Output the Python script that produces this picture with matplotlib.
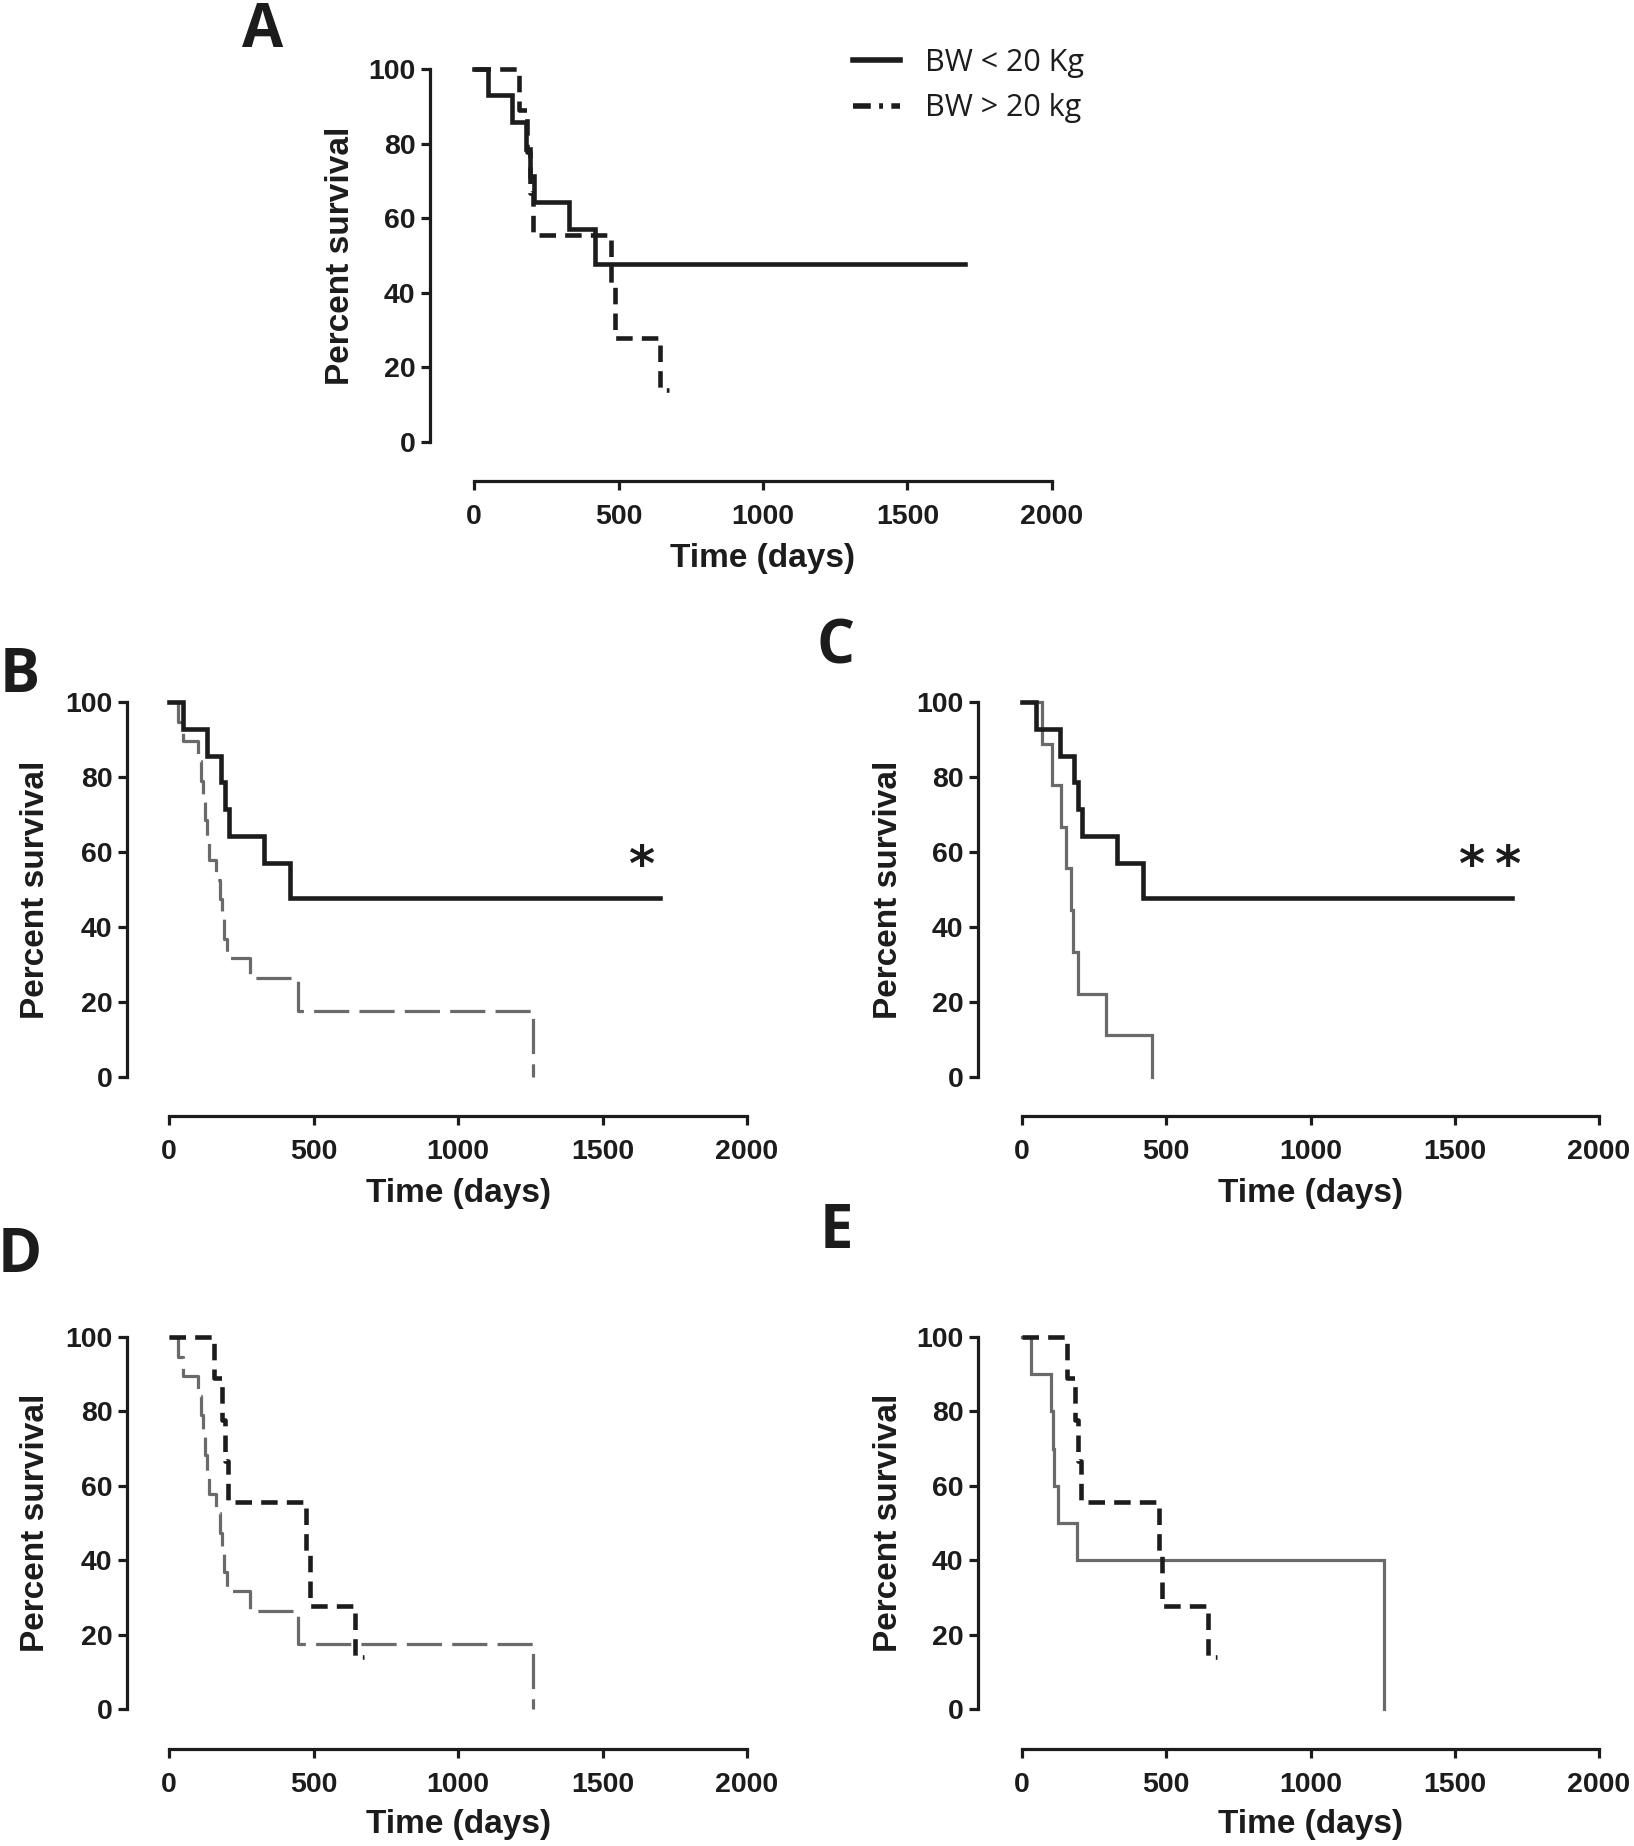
import matplotlib.pyplot as plt
from matplotlib.lines import Line2D

W, H, DPI = 1634, 1846, 100

# Kaplan-Meier curves (time in days, percent survival)
# BW < 20 kg, black solid (A, B, C)
small_t = [0, 50, 130, 180, 193, 207, 328, 418, 1698]
small_s = [100, 92.9, 85.7, 78.6, 71.4, 64.3, 57.1, 47.6, 47.6]
# BW > 20 kg, black dashed (A, D, E)
large_t = [0, 155, 185, 195, 205, 475, 487, 645, 675]
large_s = [100, 88.9, 77.8, 66.7, 55.6, 41.7, 27.8, 13.9, 13.9]
# grey dashed group (B, D)
grey_dash_t = [0, 32, 50, 100, 110, 118, 124, 130, 138, 164, 178, 184, 190, 199, 279, 447, 1259]
grey_dash_s = [100, 94.7, 89.5, 84.2, 78.9, 73.7, 68.4, 63.2, 57.9, 52.6, 47.4, 42.1, 36.8, 31.6, 26.3, 17.5, 0]
# grey solid group (C)
grey_c_t = [0, 68, 104, 135, 153, 170, 176, 194, 291, 449]
grey_c_s = [100, 88.9, 77.8, 66.7, 55.6, 44.4, 33.3, 22.2, 11.1, 0]
# grey solid group (E)
grey_e_t = [0, 32, 102, 108, 112, 126, 192, 1254]
grey_e_s = [100, 90, 80, 70, 60, 50, 40, 0]

x_ticks = [0, 500, 1000, 1500, 2000]
y_ticks = [0, 20, 40, 60, 80, 100]
legend_labels = ['BW < 20 Kg', 'BW > 20 kg']

BLACK = '#1c1c1c'
GREY = '#6a6a6a'
TICK_FONT = 'Liberation Sans'
LETTER_FONT = 'Open Sans'

# panel geometry in pixels: x at 0 days, x at 2000 days, y at 100 %, y at 0 %,
# position of the y spine, position of the x spine
boxes = {
    'A': (474, 1052, 69, 442, 430, 481),
    'B': (169, 747, 702, 1077, 127, 1116),
    'C': (1022, 1599, 702, 1077, 978, 1116),
    'D': (169, 747, 1337, 1709, 127, 1749),
    'E': (1022, 1599, 1337, 1709, 978, 1749),
}
# panel letters: centre x, baseline y (pixels)
letter_pos = {'A': (263, 47), 'B': (20, 692), 'C': (836, 663), 'D': (20, 1272), 'E': (836, 1248)}

fig = plt.figure(figsize=(W / DPI, H / DPI), dpi=DPI)


def make_axes(key):
    x0, x1, ytop, ybot, yax, xax = boxes[key]
    ax = fig.add_axes([x0 / W, 1 - ybot / H, (x1 - x0) / W, (ybot - ytop) / H])
    ax.set_xlim(0, 2000)
    ax.set_ylim(0, 100)
    for s in ['top', 'right']:
        ax.spines[s].set_visible(False)
    ax.spines['left'].set_position(('outward', (x0 - yax) * 72 / DPI))
    ax.spines['bottom'].set_position(('outward', (xax - ybot) * 72 / DPI))
    for s in ['left', 'bottom']:
        ax.spines[s].set_linewidth(2.3)
        ax.spines[s].set_color(BLACK)
        ax.spines[s].set_capstyle('projecting')
    ax.set_xticks(x_ticks)
    ax.set_yticks(y_ticks)
    ax.tick_params(axis='both', length=6.5, width=2.3, color=BLACK,
                   labelsize=20.5, labelcolor=BLACK)
    ax.tick_params(axis='y', pad=4)
    ax.tick_params(axis='x', pad=10)
    for lab in ax.get_xticklabels() + ax.get_yticklabels():
        lab.set_fontfamily(TICK_FONT)
        lab.set_fontweight('bold')
    ax.set_xlabel('Time (days)', fontsize=24, fontweight='bold', family=TICK_FONT, color=BLACK)
    ax.set_ylabel('Percent survival', fontsize=24, fontweight='bold', family=TICK_FONT, color=BLACK)
    ax.xaxis.set_label_coords(0.5, -0.27)
    ax.yaxis.set_label_coords(-0.205, 0.5)
    lx, ly = letter_pos[key]
    fig.text(lx / W, 1 - ly / H, key, fontsize=43, fontweight='bold', family=LETTER_FONT,
             color=BLACK, ha='center', va='baseline')
    return ax


def km(ax, t, s, color, lw, ls):
    ax.step(t, s, where='post', color=color, lw=lw, linestyle=ls, clip_on=False,
            solid_joinstyle='miter', dash_capstyle='butt')


black_dash = (0, (3.6, 2))
grey_dash = (0, (11, 3.2))

# A
ax = make_axes('A')
km(ax, small_t, small_s, BLACK, 3.3, '-')
km(ax, large_t, large_s, BLACK, 3.3, black_dash)
handles = [Line2D([], [], color=BLACK, lw=4),
           Line2D([], [], color=BLACK, lw=4, linestyle=(0, (3.2, 1.5, 0.7, 1.5)))]
fig.legend(handles, legend_labels, loc='upper left', bbox_to_anchor=(853 / W, 1 - 48 / H),
           frameon=False, borderpad=0, borderaxespad=0, handlelength=1.55,
           handletextpad=0.8, labelspacing=0.5,
           prop={'family': LETTER_FONT, 'size': 22}, labelcolor=BLACK)

# B
ax = make_axes('B')
km(ax, grey_dash_t, grey_dash_s, GREY, 2.3, grey_dash)
km(ax, small_t, small_s, BLACK, 3.3, '-')
ax.text(1633, 56, '*', fontsize=36, fontweight='bold', family='DejaVu Sans',
        color=BLACK, ha='center', va='center')

# C
ax = make_axes('C')
km(ax, grey_c_t, grey_c_s, GREY, 2.3, '-')
km(ax, small_t, small_s, BLACK, 3.3, '-')
ax.text(1622, 56, '*\u2009*', fontsize=36, fontweight='bold', family='DejaVu Sans',
        color=BLACK, ha='center', va='center')

# D
ax = make_axes('D')
km(ax, grey_dash_t, grey_dash_s, GREY, 2.3, grey_dash)
km(ax, large_t, large_s, BLACK, 3.3, black_dash)

# E
ax = make_axes('E')
km(ax, grey_e_t, grey_e_s, GREY, 2.3, '-')
km(ax, large_t, large_s, BLACK, 3.3, black_dash)

fig.savefig('out.png', dpi=DPI, facecolor='white')
